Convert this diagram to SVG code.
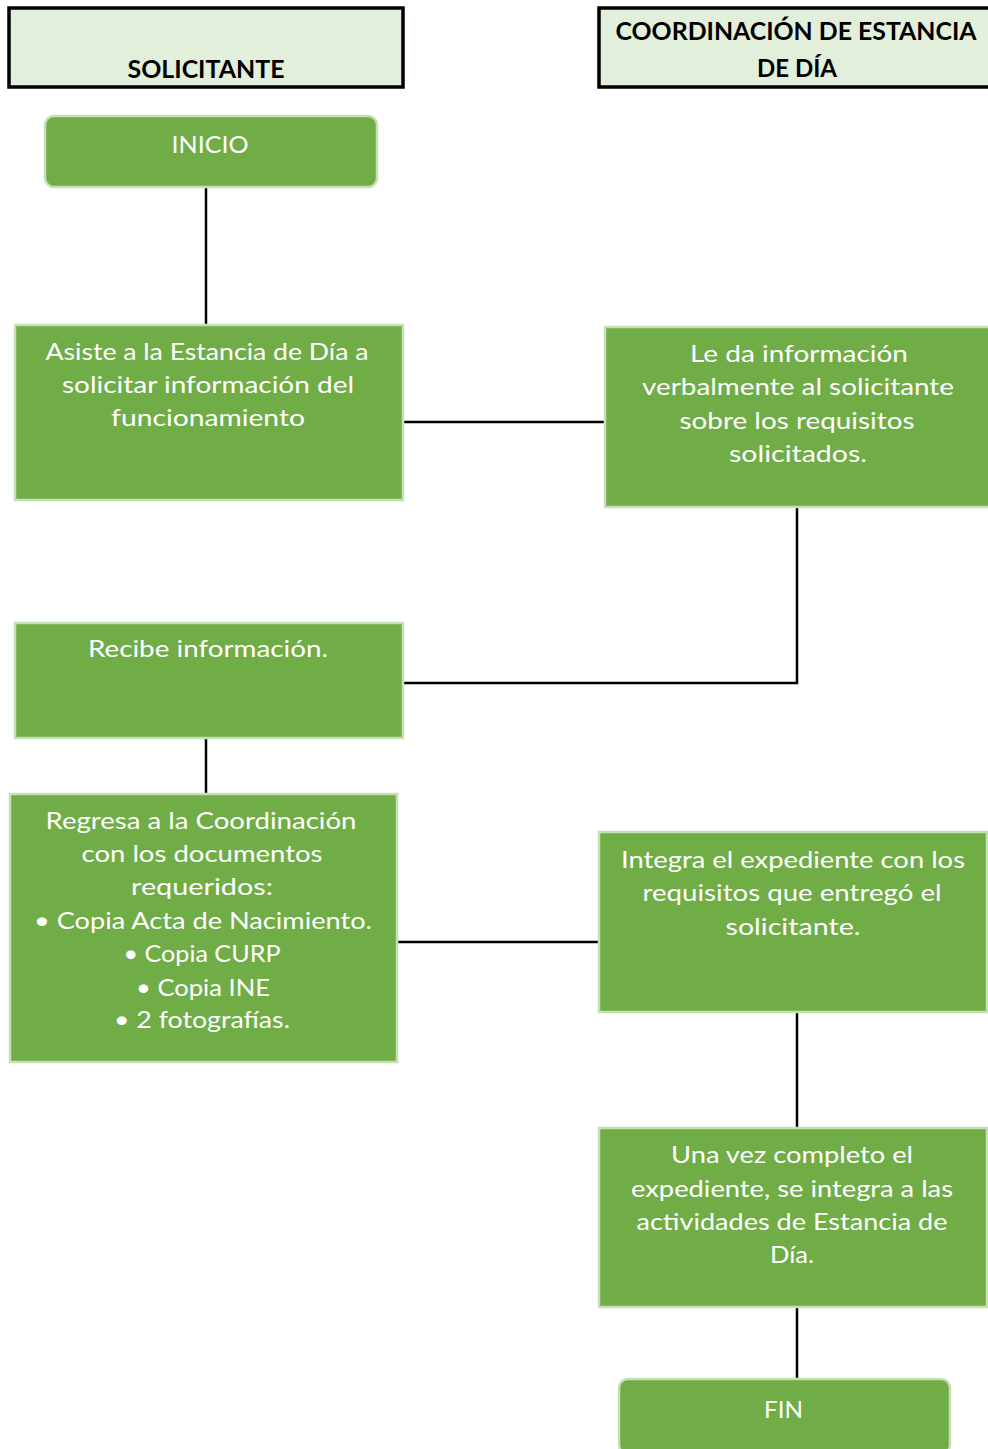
<svg xmlns="http://www.w3.org/2000/svg" width="988" height="1449" viewBox="0 0 988 1449">
<style>
.hdr{fill:#e2efda;stroke:#000;stroke-width:3.5}
.hdrt{font-family:Lato,"Open Sans",sans-serif;font-weight:bold;font-size:24px;fill:#000;text-anchor:middle}
.box{fill:#70ad47;stroke:#c5e0b4;stroke-width:2.5}
.t{font-family:Lato,"Open Sans",sans-serif;font-size:24px;fill:#fff;text-anchor:middle}
.c{stroke:#000;stroke-width:2.5;fill:none}
</style>
<rect width="988" height="1449" fill="#fff"/>
<g id="lane-solicitante">
<rect class="hdr" x="9" y="8" width="394" height="79"/>
<text class="hdrt" x="206" y="78" textLength="157" lengthAdjust="spacingAndGlyphs">SOLICITANTE</text>
</g>
<g id="lane-coordinacion">
<rect class="hdr" x="599" y="8" width="394" height="79"/>
<text class="hdrt" x="796" y="40" textLength="361" lengthAdjust="spacingAndGlyphs">COORDINACIÓN DE ESTANCIA</text>
<text class="hdrt" x="797" y="77" textLength="80" lengthAdjust="spacingAndGlyphs">DE DÍA</text>
</g>
<g id="connectors">
<line class="c" x1="206" y1="187" x2="206" y2="325"/>
<line class="c" x1="403" y1="422" x2="604" y2="422"/>
<polyline class="c" points="797,507 797,683 403,683"/>
<line class="c" x1="206" y1="738" x2="206" y2="793"/>
<line class="c" x1="397" y1="942" x2="598" y2="942"/>
<line class="c" x1="797" y1="1012" x2="797" y2="1127"/>
<line class="c" x1="797" y1="1307" x2="797" y2="1379"/>
</g>
<g id="inicio">
<rect class="box" x="45" y="116" width="332" height="71" rx="9"/>
<text class="t" x="210" y="153" textLength="77" lengthAdjust="spacingAndGlyphs">INICIO</text>
</g>
<g id="asiste">
<rect class="box" x="15" y="325" width="388" height="175"/>
<text class="t" x="207" y="360" textLength="323" lengthAdjust="spacingAndGlyphs">Asiste a la Estancia de Día a</text>
<text class="t" x="208" y="393" textLength="292" lengthAdjust="spacingAndGlyphs">solicitar información del</text>
<text class="t" x="208" y="426" textLength="194" lengthAdjust="spacingAndGlyphs">funcionamiento</text>
</g>
<g id="le-da">
<rect class="box" x="605" y="327" width="390" height="180"/>
<text class="t" x="799" y="362" textLength="218" lengthAdjust="spacingAndGlyphs">Le da información</text>
<text class="t" x="798" y="395" textLength="312" lengthAdjust="spacingAndGlyphs">verbalmente al solicitante</text>
<text class="t" x="797" y="429" textLength="235" lengthAdjust="spacingAndGlyphs">sobre los requisitos</text>
<text class="t" x="798" y="462" textLength="138" lengthAdjust="spacingAndGlyphs">solicitados.</text>
</g>
<g id="recibe">
<rect class="box" x="15" y="623" width="388" height="115"/>
<text class="t" x="208" y="657" textLength="240" lengthAdjust="spacingAndGlyphs">Recibe información.</text>
</g>
<g id="regresa">
<rect class="box" x="10" y="794" width="387" height="268"/>
<text class="t" x="201" y="829" textLength="311" lengthAdjust="spacingAndGlyphs">Regresa a la Coordinación</text>
<text class="t" x="202" y="862" textLength="241" lengthAdjust="spacingAndGlyphs">con los documentos</text>
<text class="t" x="202" y="895" textLength="142" lengthAdjust="spacingAndGlyphs">requeridos:</text>
<text class="t" x="203" y="929" textLength="338" lengthAdjust="spacingAndGlyphs">• Copia Acta de Nacimiento.</text>
<text class="t" x="202" y="962" textLength="157" lengthAdjust="spacingAndGlyphs">• Copia CURP</text>
<text class="t" x="203" y="996" textLength="134" lengthAdjust="spacingAndGlyphs">• Copia INE</text>
<text class="t" x="202" y="1028" textLength="176" lengthAdjust="spacingAndGlyphs">• 2 fotografías.</text>
</g>
<g id="integra">
<rect class="box" x="599" y="832" width="388" height="180"/>
<text class="t" x="793" y="868" textLength="344" lengthAdjust="spacingAndGlyphs">Integra el expediente con los</text>
<text class="t" x="792" y="901" textLength="299" lengthAdjust="spacingAndGlyphs">requisitos que entregó el</text>
<text class="t" x="793" y="935" textLength="135" lengthAdjust="spacingAndGlyphs">solicitante.</text>
</g>
<g id="una-vez">
<rect class="box" x="599" y="1128" width="388" height="179"/>
<text class="t" x="792" y="1163" textLength="242" lengthAdjust="spacingAndGlyphs">Una vez completo el</text>
<text class="t" x="792" y="1197" textLength="322" lengthAdjust="spacingAndGlyphs">expediente, se integra a las</text>
<text class="t" x="792" y="1230" textLength="311" lengthAdjust="spacingAndGlyphs">actividades de Estancia de</text>
<text class="t" x="792" y="1263" textLength="44" lengthAdjust="spacingAndGlyphs">Día.</text>
</g>
<g id="fin">
<rect class="box" x="619" y="1379" width="331" height="75" rx="9"/>
<text class="t" x="783.5" y="1418" textLength="39" lengthAdjust="spacingAndGlyphs">FIN</text>
</g>
</svg>
